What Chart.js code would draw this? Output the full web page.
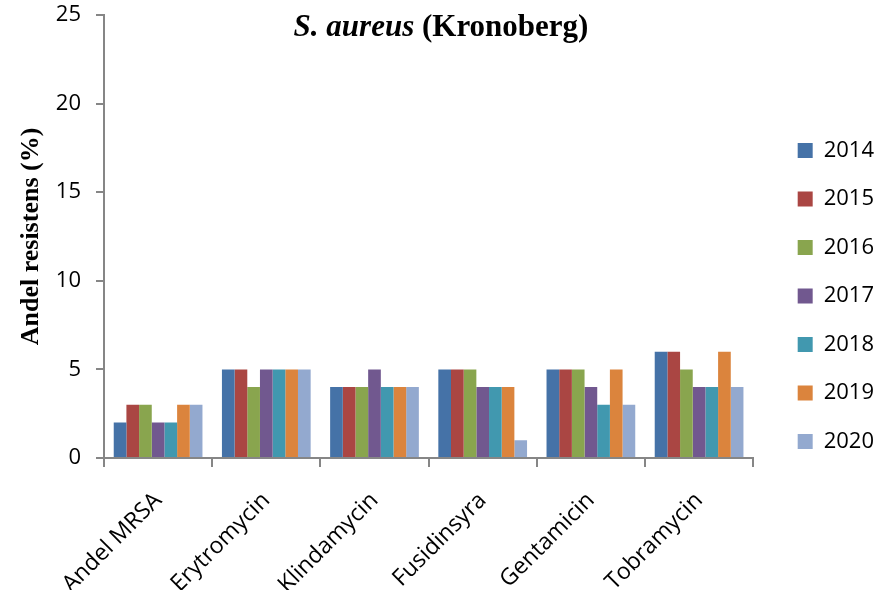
<!DOCTYPE html>
<html>
<head>
<meta charset="utf-8">
<script src="https://cdn.jsdelivr.net/npm/chart.js@4.4.1/dist/chart.umd.min.js"></script>
<style>
  html, body { margin: 0; padding: 0; background: #fff; }
  #wrap { width: 887px; height: 590px; position: relative; }
</style>
</head>
<body>
<div id="wrap"><canvas id="chart"></canvas></div>
<script>
// --- data ---
const categories = ["Andel MRSA", "Erytromycin", "Klindamycin", "Fusidinsyra", "Gentamicin", "Tobramycin"];
const years = ["2014", "2015", "2016", "2017", "2018", "2019", "2020"];
const v2014 = [2, 5, 4, 5, 5, 6];
const v2015 = [3, 5, 4, 5, 5, 6];
const v2016 = [3, 4, 4, 5, 5, 5];
const v2017 = [2, 5, 5, 4, 4, 4];
const v2018 = [2, 5, 4, 4, 3, 4];
const v2019 = [3, 5, 4, 4, 5, 6];
const v2020 = [3, 5, 4, 1, 3, 4];
const yTicks = [0, 5, 10, 15, 20, 25];

const colors = ["#4572A7", "#AA4643", "#89A54E", "#71588F", "#4198AF", "#DB843D", "#93A9CF"];
const series = [v2014, v2015, v2016, v2017, v2018, v2019, v2020];
const axisGrey = "#868686";
const sans = "'Open Sans', sans-serif";
const serif = "'Liberation Serif', 'Times New Roman', serif";

// titel med kursiv artnamn
const titlePlugin = {
  id: "mixedTitle",
  afterDraw(chart) {
    const ctx = chart.ctx;
    const a = "S. aureus", b = " (Kronoberg)";
    ctx.save();
    ctx.fillStyle = "#000";
    ctx.textBaseline = "middle";
    ctx.font = "italic bold 31px " + serif;
    const wa = ctx.measureText(a).width;
    ctx.font = "bold 31px " + serif;
    const wb = ctx.measureText(b).width;
    const x = 441 - (wa + wb) / 2;
    const y = 28;
    ctx.font = "italic bold 31px " + serif;
    ctx.fillText(a, x, y);
    ctx.font = "bold 31px " + serif;
    ctx.fillText(b, x + wa, y);
    ctx.restore();
  }
};

new Chart(document.getElementById("chart"), {
  type: "bar",
  data: {
    labels: categories,
    datasets: years.map((y, i) => ({
      label: y,
      data: series[i],
      backgroundColor: colors[i],
      borderWidth: 0,
      barPercentage: 1.0,
      categoryPercentage: 0.82,
    })),
  },
  options: {
    responsive: true,
    maintainAspectRatio: false,
    animation: false,
    layout: { padding: { top: 2, right: 3, left: 16, bottom: 0 } },
    plugins: {
      title: { display: false },
      tooltip: { enabled: false },
      legend: {
        position: "right",
        align: "center",
        labels: {
          boxWidth: 15,
          boxHeight: 15,
          padding: 26.5,
          color: "#000",
          font: { family: sans, size: 22 },
        },
      },
    },
    scales: {
      x: {
        grid: {
          display: true,
          offset: true,
          drawOnChartArea: false,
          tickLength: 9,
          color: axisGrey,
          lineWidth: 2,
        },
        border: { color: axisGrey, width: 2 },
        ticks: {
          color: "#000",
          minRotation: 45,
          maxRotation: 45,
          font: { family: sans, size: 23 },
          padding: 20,
        },
        afterFit: (s) => { s.height = 132; s.paddingLeft = 0; s.paddingRight = 0; },
      },
      y: {
        min: 0,
        max: 25,
        afterBuildTicks: (axis) => { axis.ticks = yTicks.map((v) => ({ value: v })); },
        grid: {
          display: true,
          drawOnChartArea: false,
          tickLength: 8,
          color: axisGrey,
          lineWidth: 2,
        },
        border: { color: axisGrey, width: 2 },
        ticks: {
          color: "#000",
          font: { family: sans, size: 22 },
          padding: 15,
        },
        title: {
          display: true,
          text: "Andel resistens (%)",
          color: "#000",
          font: { family: serif, size: 26, weight: "bold" },
          padding: { top: 0, bottom: 8 },
        },
        afterFit: (s) => { s.width = 88; s.paddingTop = 15; s.paddingBottom = 0; },
      },
      // tom axel som ger luft mellan diagram och förklaring
      gap: {
        type: "linear",
        position: "right",
        display: true,
        grid: { display: false },
        border: { display: false },
        ticks: { display: false },
        afterFit: (s) => { s.width = 18; s.paddingTop = 0; s.paddingBottom = 0; },
      },
    },
  },
  plugins: [titlePlugin],
});
</script>
</body>
</html>
